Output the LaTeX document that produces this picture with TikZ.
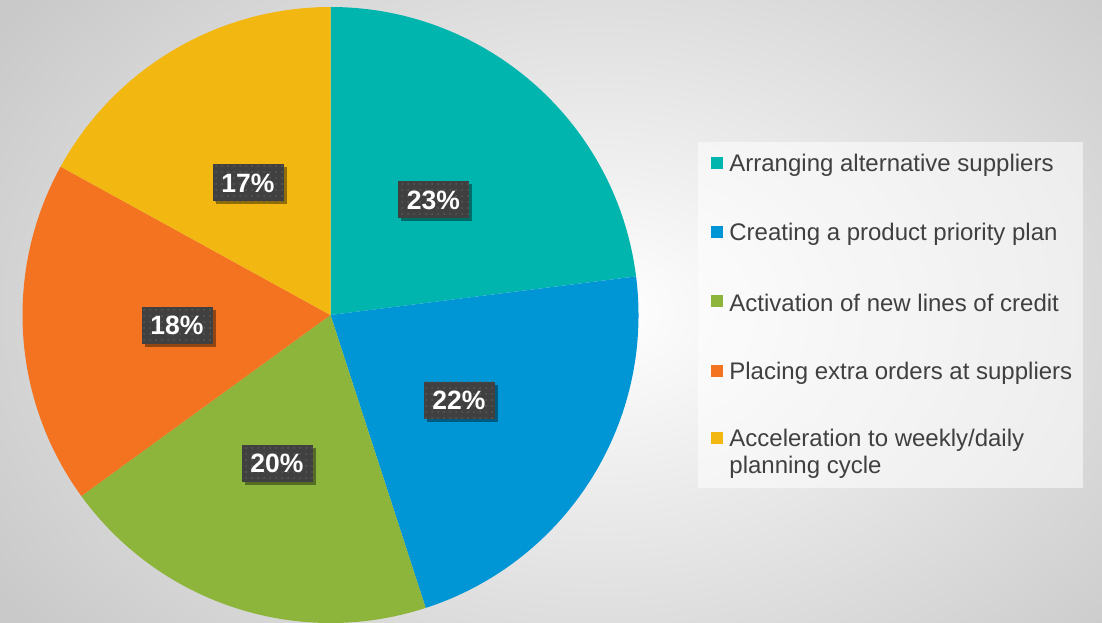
\documentclass[tikz,border=0pt]{standalone}
\usepackage{fontspec}
\setmainfont{Liberation Sans}
\usetikzlibrary{positioning,shadows,patterns.meta}

\definecolor{sliceA}{HTML}{00B5AD}
\definecolor{sliceB}{HTML}{0096D6}
\definecolor{sliceC}{HTML}{8DB53C}
\definecolor{sliceD}{HTML}{F37321}
\definecolor{sliceE}{HTML}{F2B711}
\definecolor{lbldark}{HTML}{404040}
\definecolor{txtgrey}{HTML}{404040}

\tikzset{
  pct/.style={rectangle, minimum width=71pt, minimum height=37pt, inner sep=0pt,
    drop shadow={shadow xshift=3pt, shadow yshift=-3pt, fill=black, opacity=.4},
    preaction={fill=lbldark}, pattern={Dots[distance=6pt,radius=1pt]},
    pattern color=gray!70!black, text=white,
    font=\bfseries\fontsize{26.5}{30}\selectfont},
  legsq/.style={rectangle, minimum size=12pt, inner sep=0pt},
  legtext/.style={text=txtgrey, inner sep=0pt, align=left, yshift=-2pt,
    font=\fontsize{24}{27}\selectfont}
}

\begin{document}
\begin{tikzpicture}[x=1pt,y=1pt,node distance=6pt]
        \useasboundingbox (0,0) rectangle (1102,622);
        \begin{scope}
        \clip (0,0) rectangle (1102,622);
        \shade[inner color=white, outer color=black!21] (-120,-190) rectangle (1320,810);
        \end{scope}
        % pie
        \coordinate (ctr) at (330.5,307);
        \fill[sliceA] (ctr) -- ++(90:308) arc[start angle=90, end angle=7.2, radius=308] -- cycle;
        \fill[sliceB] (ctr) -- ++(7.2:308) arc[start angle=7.2, end angle=-72, radius=308] -- cycle;
        \fill[sliceC] (ctr) -- ++(-72:308) arc[start angle=-72, end angle=-144, radius=308] -- cycle;
        \fill[sliceD] (ctr) -- ++(-144:308) arc[start angle=-144, end angle=-208.8, radius=308] -- cycle;
        \fill[sliceE] (ctr) -- ++(151.2:308) arc[start angle=151.2, end angle=90, radius=308] -- cycle;
        % percentages
        \node[pct] (p_a) at (433.5,422) {23\%};
        \node[pct] (p_b) at (459,222) {22\%};
        \node[pct] (p_c) at (277,159) {20\%};
        \node[pct] (p_d) at (177,297) {18\%};
        \node[pct] (p_e) at (248,439) {17\%};
        % legend
        \fill[white, fill opacity=.55] (698,480) rectangle (1083,134);
        \node[legsq, fill=sliceA] (sq_a) at (717,459) {};
        \node[legsq, fill=sliceB] (sq_b) at (717,390) {};
        \node[legsq, fill=sliceC] (sq_c) at (717,321) {};
        \node[legsq, fill=sliceD] (sq_d) at (717,251) {};
        \node[legsq, fill=sliceE] (sq_e) at (717,184) {};
        \node[legtext] (t_a) [right=of sq_a] {Arranging alternative suppliers};
        \node[legtext] (t_b) [right=of sq_b] {Creating a product priority plan};
        \node[legtext] (t_c) [right=of sq_c] {Activation of new lines of credit};
        \node[legtext] (t_d) [right=of sq_d] {Placing extra orders at suppliers};
        \node[legtext, anchor=north west] (t_e) at ([xshift=6pt,yshift=11pt]sq_e.east) {Acceleration to weekly/daily\\planning cycle};
    \end{tikzpicture}
\end{document}
